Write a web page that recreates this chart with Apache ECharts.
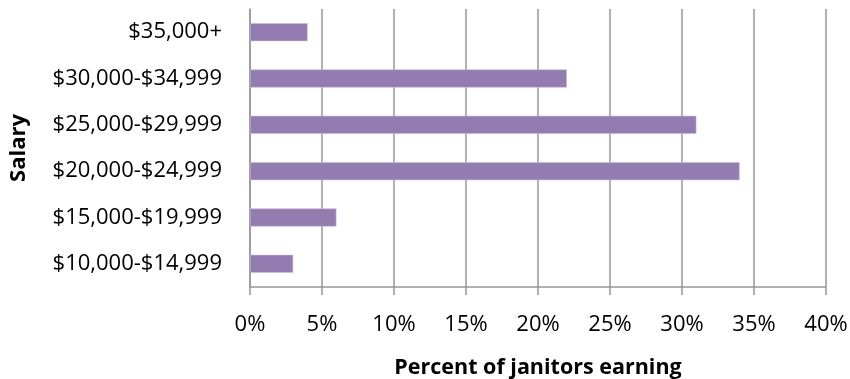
<!DOCTYPE html>
<html>
<head>
<meta charset="utf-8">
<script src="https://cdn.jsdelivr.net/npm/echarts@6/dist/echarts.min.js"></script>
<style>
  html, body { margin: 0; padding: 0; background: #fff; }
  #chart { width: 850px; height: 379px; }
</style>
</head>
<body>
<div id="chart"></div>
<script>
// Salary brackets, listed bottom to top
const salaryBrackets = [
  '$10,000-$14,999',
  '$15,000-$19,999',
  '$20,000-$24,999',
  '$25,000-$29,999',
  '$30,000-$34,999',
  '$35,000+'
];
// Share of janitors in each bracket (%)
const percentEarning = [3, 6, 34, 31, 22, 4];
const percentTicks = { min: 0, max: 40, step: 5 };

const FONT = '"Open Sans", "Noto Sans", sans-serif';
const chart = echarts.init(document.getElementById('chart'), null, { renderer: 'canvas' });

chart.setOption({
  animation: false,
  backgroundColor: '#ffffff',
  grid: { left: 250, right: 24, top: 9, bottom: 92, containLabel: false, outerBoundsMode: 'none' },
  xAxis: {
    type: 'value',
    min: percentTicks.min,
    max: percentTicks.max,
    interval: percentTicks.step,
    name: 'Percent of janitors earning',
    nameLocation: 'middle',
    nameGap: 70,
    nameTextStyle: { fontFamily: FONT, fontSize: 21.5, fontWeight: 'bold', color: '#000' },
    axisLine: { show: true, lineStyle: { color: '#979797', width: 1.5 } },
    axisTick: { show: true, length: 8, inside: false, lineStyle: { color: '#979797', width: 1.5 } },
    axisLabel: {
      margin: 27,
      fontFamily: FONT, fontSize: 22, color: '#000',
      formatter: v => v + '%'
    },
    splitLine: { show: true, lineStyle: { color: '#979797', width: 1.5 } }
  },
  yAxis: {
    type: 'category',
    data: salaryBrackets,
    name: 'Salary',
    nameLocation: 'middle',
    nameGap: 220,
    nameRotate: 90,
    nameTextStyle: { fontFamily: FONT, fontSize: 22, fontWeight: 'bold', color: '#000' },
    axisLine: { show: true, lineStyle: { color: '#979797', width: 1.5 } },
    axisTick: { show: false },
    axisLabel: { margin: 28, fontFamily: FONT, fontSize: 22, color: '#000' },
    splitLine: { show: false }
  },
  series: [{
    type: 'bar',
    data: percentEarning,
    barCategoryGap: '61%',
    itemStyle: { color: '#937CB0', borderColor: '#C9B9DB', borderWidth: 0.6 },
    silent: true
  }]
});
</script>
</body>
</html>
